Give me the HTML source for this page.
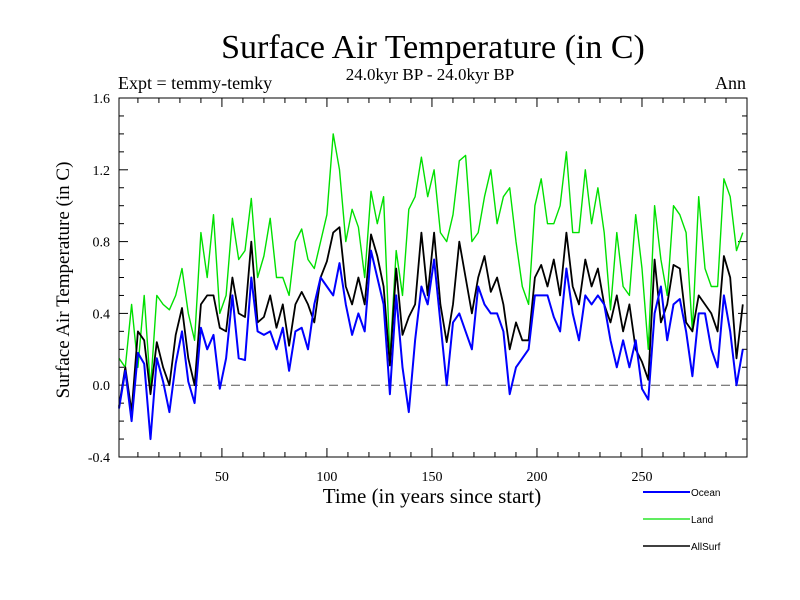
<!DOCTYPE html>
<html><head><meta charset="utf-8"><style>
body{margin:0;background:#fff;}
svg{display:block;}
.serif{font-family:"Liberation Serif",serif;fill:#000;}
.sans{font-family:"Liberation Sans",sans-serif;fill:#000;}
</style></head><body>
<svg id="chart" width="800" height="600" xmlns="http://www.w3.org/2000/svg">
<rect width="800" height="600" fill="#fff"/>
<text class="serif" x="433" y="58" font-size="34" text-anchor="middle">Surface Air Temperature (in C)</text>
<text class="serif" x="430" y="80" font-size="17" text-anchor="middle">24.0kyr BP - 24.0kyr BP</text>
<text class="serif" x="118" y="89" font-size="18">Expt = temmy-temky</text>
<text class="serif" x="746" y="89" font-size="18" text-anchor="end">Ann</text>
<text class="serif" x="0" y="0" font-size="19" text-anchor="middle" transform="translate(69,280) rotate(-90)">Surface Air Temperature (in C)</text>
<text class="serif" x="432" y="503" font-size="21" text-anchor="middle">Time (in years since start)</text>
<g id="ticks"></g>
<g id="series"></g>
<rect x="119" y="98" width="628" height="359" fill="none" stroke="#000" stroke-width="1"/>
<g>
<line x1="643" y1="492" x2="690" y2="492" stroke="#0000ff" stroke-width="2"/>
<text class="sans" x="691" y="496" font-size="10">Ocean</text>
<line x1="643" y1="519" x2="690" y2="519" stroke="#00e000" stroke-width="1.2"/>
<text class="sans" x="691" y="523" font-size="10">Land</text>
<line x1="643" y1="546" x2="690" y2="546" stroke="#000" stroke-width="1.5"/>
<text class="sans" x="691" y="550" font-size="10">AllSurf</text>
</g>
</svg>
<script>
const yTickValues = [-0.4, 0.0, 0.4, 0.8, 1.2, 1.6];
const yTickLabels = ["-0.4", "0.0", "0.4", "0.8", "1.2", "1.6"];
const xTickValues = [50, 100, 150, 200, 250];
const xTickLabels = ["50", "100", "150", "200", "250"];
const ocean = [-0.13,0.08,-0.2,0.18,0.12,-0.3,0.15,0.02,-0.15,0.12,0.3,0.02,-0.1,0.32,0.2,0.28,-0.02,0.15,0.5,0.15,0.14,0.6,0.3,0.28,0.3,0.2,0.32,0.08,0.3,0.32,0.2,0.45,0.6,
0.55,0.5,0.68,0.45,0.28,0.4,0.3,0.75,0.6,0.45,-0.05,0.5,0.1,-0.15,0.25,0.55,0.45,0.7,0.35,0.0,0.35,0.4,0.3,0.2,0.55,0.45,0.4,0.4,0.3,-0.05,0.1,0.15,0.2,
0.5,0.5,0.5,0.38,0.3,0.65,0.4,0.25,0.5,0.45,0.5,0.45,0.25,0.1,0.25,0.1,0.25,-0.02,-0.08,0.4,0.55,0.25,0.45,0.48,0.3,0.05,0.4,0.4,0.2,0.1,0.5,0.3,0.0,0.2];
const land = [0.15,0.1,0.45,0.1,0.5,-0.02,0.5,0.45,0.42,0.5,0.65,0.4,0.25,0.85,0.6,0.95,0.4,0.5,0.93,0.7,0.75,1.04,0.6,0.72,0.93,0.6,0.6,0.5,0.8,0.87,0.7,0.65,0.8,
0.95,1.4,1.2,0.8,0.98,0.88,0.6,1.08,0.9,1.05,0.15,0.75,0.5,0.98,1.05,1.27,1.05,1.2,0.85,0.8,0.95,1.25,1.28,0.8,0.85,1.05,1.2,0.9,1.05,1.1,0.8,0.55,0.45,
1.0,1.15,0.9,0.9,1.0,1.3,0.85,0.85,1.2,0.9,1.1,0.85,0.42,0.85,0.55,0.5,0.95,0.65,0.2,1.0,0.7,0.5,1.0,0.95,0.85,0.3,1.05,0.65,0.55,0.55,1.15,1.05,0.75,0.85];
const allSurf = [-0.12,0.1,-0.15,0.3,0.25,-0.05,0.24,0.1,0.0,0.28,0.43,0.15,0.0,0.45,0.5,0.5,0.32,0.3,0.6,0.4,0.38,0.8,0.35,0.38,0.5,0.32,0.45,0.22,0.45,0.52,0.45,0.35,0.6,
0.69,0.85,0.88,0.55,0.45,0.6,0.45,0.84,0.72,0.55,0.11,0.65,0.28,0.38,0.45,0.85,0.5,0.85,0.45,0.24,0.45,0.8,0.6,0.4,0.6,0.72,0.52,0.6,0.45,0.2,0.35,0.25,0.25,
0.6,0.67,0.55,0.7,0.5,0.85,0.55,0.45,0.7,0.55,0.65,0.45,0.35,0.5,0.3,0.45,0.2,0.13,0.03,0.7,0.35,0.45,0.67,0.65,0.35,0.3,0.5,0.45,0.4,0.3,0.72,0.6,0.15,0.45];
const years = ocean.map((_, i) => 1 + 3 * i);

const NS = "http://www.w3.org/2000/svg";
const L = 119, R = 747, T = 98, B = 457;
const xMin = 1, xMax = 300, yMin = -0.4, yMax = 1.6;
function xs(v) { return L + (v - xMin) / (xMax - xMin) * (R - L); }
function ys(v) { return B - (v - yMin) / (yMax - yMin) * (B - T); }
function mk(tag, attrs, parent) {
  const e = document.createElementNS(NS, tag);
  for (const k in attrs) e.setAttribute(k, attrs[k]);
  parent.appendChild(e);
  return e;
}
const tg = document.getElementById('ticks');
for (let k = 0; k <= 20; k++) {
  const v = yMin + k * 0.1;
  const y = ys(v);
  const len = (k % 4 === 0) ? 9 : 5;
  const t1 = mk('line', {x1: L, y1: y, x2: L + len, y2: y, stroke: '#000'}, tg);
  
  
  const t2 = mk('line', {x1: R, y1: y, x2: R - len, y2: y, stroke: '#000'}, tg);
  
  
}
yTickValues.forEach((v, i) => {
  const t = mk('text', {x: 110, y: ys(v) + 5, 'font-size': 14, 'text-anchor': 'end', class: 'serif'}, tg);
  t.textContent = yTickLabels[i];
  
  
});
for (let v = 10; v < 300; v += 10) {
  const x = xs(v);
  const len = (v % 50 === 0) ? 9 : 5;
  const t1 = mk('line', {x1: x, y1: B, x2: x, y2: B - len, stroke: '#000'}, tg);
  
  
  const t2 = mk('line', {x1: x, y1: T, x2: x, y2: T + len, stroke: '#000'}, tg);
  
  
}
xTickValues.forEach((v, i) => {
  const t = mk('text', {x: xs(v), y: 481, 'font-size': 14, 'text-anchor': 'middle', class: 'serif'}, tg);
  t.textContent = xTickLabels[i];
  
  
});
const zl = mk('line', {x1: L, y1: ys(0), x2: R, y2: ys(0), stroke: '#555', 'stroke-dasharray': '9,5'}, tg);



const sg = document.getElementById('series');
function draw(arr, color, w, name) {
  const d = arr.map((v, i) => (i ? 'L' : 'M') + xs(years[i]).toFixed(1) + ',' + ys(v).toFixed(1)).join('');
  const p = mk('path', {d: d, fill: 'none', stroke: color, 'stroke-width': w, 'stroke-linejoin': 'round'}, sg);
  
  
}
draw(land, '#00e000', 1.4, 'land-series');
draw(allSurf, '#000', 1.8, 'allsurf-series');
draw(ocean, '#0000ff', 2, 'ocean-series');
</script>
</body></html>
